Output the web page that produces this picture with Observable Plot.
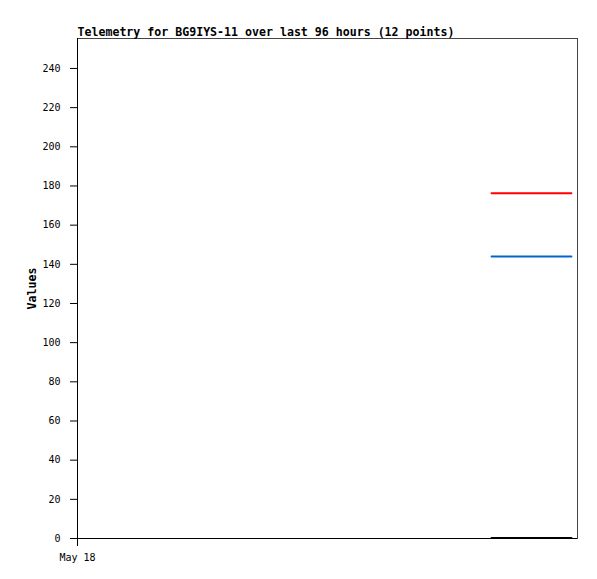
<!DOCTYPE html>
<html>
<head>
<meta charset="utf-8">
<script src="https://cdn.jsdelivr.net/npm/d3@7"></script>
<script src="https://cdn.jsdelivr.net/npm/@observablehq/plot@0.6"></script>
<style>
  body { margin: 0; background: #fff; }
  svg { display: block; }
</style>
</head>
<body>
<div id="chart"></div>
<script>
const titleText = "Telemetry for BG9IYS-11 over last 96 hours (12 points)";
const yLabel = "Values";
const times = [
  "2024-05-21T07:30Z", "2024-05-21T08:54Z", "2024-05-21T10:18Z", "2024-05-21T11:42Z",
  "2024-05-21T13:06Z", "2024-05-21T14:30Z", "2024-05-21T15:54Z", "2024-05-21T17:18Z",
  "2024-05-21T18:42Z", "2024-05-21T20:06Z", "2024-05-21T21:30Z", "2024-05-21T22:50Z"
];
const seriesRed = [176.3, 176.3, 176.3, 176.3, 176.3, 176.3, 176.3, 176.3, 176.3, 176.3, 176.3, 176.3];
const seriesBlue = [144.0, 144.0, 144.0, 144.0, 144.0, 144.0, 144.0, 144.0, 144.0, 144.0, 144.0, 144.0];
const seriesBlack = [0.2, 0.2, 0.2, 0.2, 0.2, 0.2, 0.2, 0.2, 0.2, 0.2, 0.2, 0.2];
const xStart = "2024-05-18T00:00Z";
const xEnd = "2024-05-22T00:00Z";
const yTicks = [0, 20, 40, 60, 80, 100, 120, 140, 160, 180, 200, 220, 240];
const yMax = 255.3;

const parse = s => new Date(s);
const rows = (vals, name) => vals.map((v, i) => ({t: parse(times[i]), v, s: name}));
const data = [
  ...rows(seriesRed, "red"),
  ...rows(seriesBlue, "blue"),
  ...rows(seriesBlack, "black")
];
const colors = {red: "#ff0000", blue: "#0066cc", black: "#000000"};

const mono = "'DejaVu Sans Mono', 'Liberation Mono', monospace";

const chart = Plot.plot({
  width: 597,
  height: 579,
  marginLeft: 77,
  marginTop: 38,
  marginRight: 20,
  marginBottom: 41,
  style: {fontFamily: mono, fontSize: "10px", background: "#fff", color: "#000"},
  x: {type: "utc", domain: [parse(xStart), parse(xEnd)]},
  y: {domain: [0, yMax]},
  marks: [
    Plot.frame({stroke: "#444", strokeWidth: 1}),
    Plot.axisY({ticks: yTicks, tickSize: 7, tickPadding: 10, label: null, tickFormat: d => String(d)}),
    Plot.axisX({ticks: [parse(xStart)], tickSize: 8, tickPadding: 7, label: null, tickFormat: d3.utcFormat("%b %d")}),
    Plot.ruleX([parse(xStart)], {stroke: "#000", strokeWidth: 1}),
    Plot.ruleY([0], {stroke: "#000", strokeWidth: 1}),
    Plot.line(data, {x: "t", y: "v", z: "s", stroke: d => colors[d.s], strokeWidth: 2}),
    Plot.text([titleText], {frameAnchor: "top-left", text: d => d, dy: -3, textAnchor: "start", fontWeight: "bold", fontSize: 11.6, lineAnchor: "bottom"}),
    Plot.text([yLabel], {frameAnchor: "left", text: d => d, dx: -45, rotate: -90, textAnchor: "middle", fontWeight: "bold", fontSize: 11.6})
  ]
});
document.getElementById("chart").appendChild(chart);
</script>
</body>
</html>
